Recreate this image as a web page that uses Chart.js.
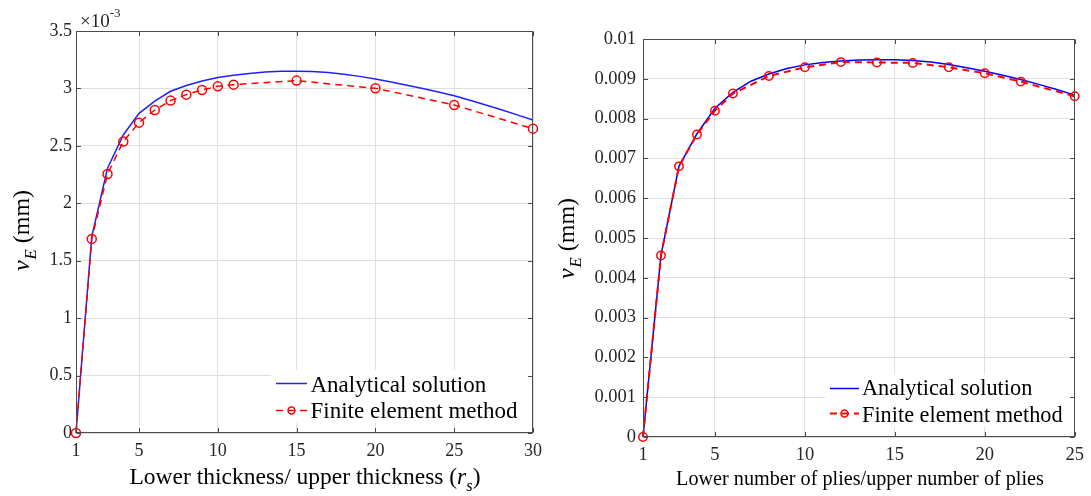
<!DOCTYPE html>
<html><head><meta charset="utf-8">
<script src="https://cdn.jsdelivr.net/npm/chart.js@4.4.1/dist/chart.umd.min.js"></script>
<style>
html,body{margin:0;padding:0;background:#fff;width:1091px;height:496px;overflow:hidden}
canvas{position:absolute;top:0}
#c1{left:0}
#c2{left:550px}
</style></head><body>
<canvas id="c1" width="550" height="496"></canvas>
<canvas id="c2" width="541" height="496"></canvas>
<script>
// ---------- data (left: x 10^-3 mm) ----------
const leftX = [1,2,3,4,5,6,7,8,9,10,11,12,13,14,15,16,17,18,19,20,21,22,23,24,25,26,27,28,29,30];
const leftAnalytical = [0,1.71,2.305,2.595,2.783,2.89,2.975,3.025,3.065,3.095,3.115,3.13,3.142,3.149,3.15,3.147,3.138,3.124,3.105,3.082,3.056,3.028,3.0,2.969,2.937,2.897,2.856,2.814,2.77,2.725];
const leftFemX = [1,2,3,4,5,6,7,8,9,10,11,15,20,25,30];
const leftFem = [0,1.69,2.255,2.537,2.702,2.812,2.894,2.946,2.987,3.018,3.033,3.068,3.001,2.856,2.65];
const leftXTicks = [1,5,10,15,20,25,30];
const leftYTicks = [0,0.5,1,1.5,2,2.5,3,3.5];
const leftYTickLabels = ['0','0.5','1','1.5','2','2.5','3','3.5'];

// ---------- data (right: mm) ----------
const rightX = [1,2,3,4,5,6,7,8,9,10,11,12,13,14,15,16,17,18,19,20,21,22,23,24,25];
const rightAnalytical = [0,0.00457,0.0068,0.00762,0.00826,0.00866,0.00894,0.00912,0.00926,0.00935,0.00941,0.00945,0.00947,0.00948,0.00948,0.00946,0.00942,0.00936,0.00928,0.00919,0.00909,0.00898,0.00886,0.00873,0.00859];
const rightFemX = [1,2,3,4,5,6,8,10,12,14,16,18,20,22,25];
const rightFem = [0,0.00456,0.0068,0.0076,0.0082,0.00863,0.00907,0.00929,0.00942,0.00941,0.0094,0.00929,0.00914,0.00893,0.00856];
const rightXTicks = [1,5,10,15,20,25];
const rightYTicks = [0,0.001,0.002,0.003,0.004,0.005,0.006,0.007,0.008,0.009,0.01];
const rightYTickLabels = ['0','0.001','0.002','0.003','0.004','0.005','0.006','0.007','0.008','0.009','0.01'];

const seriesNames = ['Analytical solution','Finite element method'];
const leftXTitle = ['Lower thickness/ upper thickness (', 'r', 's', ')'];
const rightXTitle = 'Lower number of plies/upper number of plies';
const yTitle = ['v', 'E', ' (mm)'];
const multiplier = ['\u00D710', '-3'];

const FONT = '"Liberation Serif","Times New Roman",serif';
const GRID = '#dfdfdf';
const AXC = '#4a4a4a';
const TICKC = '#262626';

function pts(xs, ys) { return xs.map((x, i) => ({ x: x, y: ys[i] })); }

function makeDecor(o) {
  return {
    id: 'decor',
    afterDatasetsDraw(chart) {
      const ctx = chart.ctx, L = o.legend;
      ctx.save();
      ctx.fillStyle = '#fff';
      ctx.fillRect(L.x0, L.y0, L.x1 - L.x0, L.y1 - L.y0);
      ctx.lineWidth = o.blueW; ctx.strokeStyle = o.blue; ctx.setLineDash([]);
      ctx.beginPath(); ctx.moveTo(L.lx0, L.r1); ctx.lineTo(L.lx1, L.r1); ctx.stroke();
      ctx.lineWidth = o.redW; ctx.strokeStyle = '#ff0000'; ctx.setLineDash(o.dash);
      ctx.beginPath(); ctx.moveTo(L.lx0, L.r2); ctx.lineTo(L.lx1, L.r2); ctx.stroke();
      ctx.setLineDash([]); ctx.lineWidth = o.pbw;
      ctx.beginPath(); ctx.arc((L.lx0 + L.lx1) / 2, L.r2, L.pr, 0, Math.PI * 2); ctx.stroke();
      ctx.fillStyle = '#000'; ctx.textBaseline = 'alphabetic'; ctx.textAlign = 'left';
      ctx.font = L.fs + 'px ' + FONT;
      ctx.fillText(seriesNames[0], L.tx, L.b1);
      ctx.fillText(seriesNames[1], L.tx, L.b2);
      ctx.restore();
    },
    afterDraw(chart) {
      const ctx = chart.ctx, a = chart.chartArea, sx = chart.scales.x, sy = chart.scales.y;
      ctx.save();
      ctx.strokeStyle = AXC; ctx.lineWidth = 1; ctx.setLineDash([]);
      const l = Math.round(a.left) + 0.5, r = Math.round(a.right) - 0.5, t = Math.round(a.top) + 0.5, b = Math.round(a.bottom) - 0.5;
      ctx.strokeRect(l, t, r - l, b - t);
      const tl = 4.5;
      ctx.beginPath();
      o.xTicks.forEach(v => { const p = Math.round(sx.getPixelForValue(v)) + 0.5;
        ctx.moveTo(p, b); ctx.lineTo(p, b - tl); ctx.moveTo(p, t); ctx.lineTo(p, t + tl); });
      o.yTicks.forEach(v => { const p = Math.round(sy.getPixelForValue(v)) + 0.5;
        ctx.moveTo(l, p); ctx.lineTo(l + tl, p); ctx.moveTo(r, p); ctx.lineTo(r - tl, p); });
      ctx.stroke();

      ctx.fillStyle = '#000';
      ctx.textBaseline = 'alphabetic'; ctx.textAlign = 'left';
      // x title
      const xt = o.xTitle;
      if (Array.isArray(xt)) {
        const f1 = xt_font(o.xtSize, ''), f2 = xt_font(o.xtSize, 'italic '), f3 = xt_font(o.xtSize * 0.7, 'italic ');
        ctx.font = f1; const w1 = ctx.measureText(xt[0]).width, w4 = ctx.measureText(xt[3]).width;
        ctx.font = f2; const w2 = ctx.measureText(xt[1]).width;
        ctx.font = f3; const w3 = ctx.measureText(xt[2]).width;
        let x = o.xtCx - (w1 + w2 + w3 + w4) / 2;
        ctx.font = f1; ctx.fillText(xt[0], x, o.xtBase); x += w1;
        ctx.font = f2; ctx.fillText(xt[1], x, o.xtBase); x += w2;
        ctx.font = f3; ctx.fillText(xt[2], x, o.xtBase + o.xtSize * 0.3); x += w3;
        ctx.font = f1; ctx.fillText(xt[3], x, o.xtBase);
      } else {
        ctx.font = xt_font(o.xtSize, ''); ctx.textAlign = 'center';
        ctx.fillText(xt, o.xtCx, o.xtBase); ctx.textAlign = 'left';
      }
      // y title (rotated)
      ctx.save();
      ctx.translate(o.ytBase, o.ytCy); ctx.rotate(-Math.PI / 2);
      const fv = xt_font(o.ytSize, 'italic '), fe = xt_font(o.ytSize * 0.7, 'italic '), fm = xt_font(o.ytSize, '');
      ctx.font = fv; const wv = ctx.measureText(yTitle[0]).width;
      ctx.font = fe; const we = ctx.measureText(yTitle[1]).width;
      ctx.font = fm; const wm = ctx.measureText(yTitle[2]).width;
      let yx = -(wv + we + wm) / 2;
      ctx.font = fv; ctx.fillText(yTitle[0], yx, 0); yx += wv + 1;
      ctx.font = fe; ctx.fillText(yTitle[1], yx, o.ytSize * 0.28); yx += we;
      ctx.font = fm; ctx.fillText(yTitle[2], yx, 0);
      ctx.restore();
      // multiplier
      if (o.mult) {
        ctx.fillStyle = TICKC;
        ctx.font = xt_font(19, ''); const wm1 = ctx.measureText(multiplier[0]).width;
        ctx.fillText(multiplier[0], o.mult.x, o.mult.y);
        ctx.font = xt_font(13, ''); ctx.fillText(multiplier[1], o.mult.x + wm1, o.mult.y - 10);
      }
      ctx.restore();
    }
  };
}
function xt_font(size, style) { return style + size + 'px ' + FONT; }

function makeChart(id, o) {
  return new Chart(document.getElementById(id), {
    type: 'line',
    data: { datasets: [
      { label: seriesNames[0], data: pts(o.ax, o.ay), borderColor: o.blue, borderWidth: o.blueW,
        pointRadius: 0, tension: 0, fill: false, clip: false, order: 2 },
      { label: seriesNames[1], data: pts(o.fx, o.fy), borderColor: '#ff0000', borderWidth: o.redW, borderDash: o.dash,
        pointRadius: o.pr, pointBorderWidth: o.pbw, pointBorderColor: '#ff0000', pointBackgroundColor: 'rgba(0,0,0,0)',
        pointStyle: 'circle', tension: 0, fill: false, clip: false, order: 1 }
    ] },
    options: {
      responsive: false, animation: false, events: [],
      layout: { padding: { left: 0, top: o.padTop, right: o.padRight, bottom: 0 } },
      plugins: { legend: { display: false }, tooltip: { enabled: false } },
      scales: {
        x: { type: 'linear', min: o.xTicks[0], max: o.xTicks[o.xTicks.length - 1],
          afterBuildTicks: s => { s.ticks = o.xTicks.map(v => ({ value: v })); },
          afterFit: s => { s.height = o.xH; },
          grid: { color: GRID, drawTicks: false, lineWidth: 1 }, border: { display: false },
          ticks: { font: { family: FONT, size: o.tickSize }, color: TICKC, padding: o.xPad, maxRotation: 0, autoSkip: false,
            callback: v => String(v) } },
        y: { type: 'linear', min: o.yTicks[0], max: o.yTicks[o.yTicks.length - 1],
          afterBuildTicks: s => { s.ticks = o.yTicks.map(v => ({ value: v })); },
          afterFit: s => { s.width = o.yW; },
          grid: { color: GRID, drawTicks: false, lineWidth: 1 }, border: { display: false },
          ticks: { font: { family: FONT, size: o.tickSize }, color: TICKC, padding: o.yPad, autoSkip: false,
            callback: v => { const i = o.yTicks.findIndex(t => Math.abs(t - v) < 1e-9); return i >= 0 ? o.yLabels[i] : ''; } } }
      }
    },
    plugins: [makeDecor(o)]
  });
}

makeChart('c1', {
  ax: leftX, ay: leftAnalytical, fx: leftFemX, fy: leftFem,
  xTicks: leftXTicks, yTicks: leftYTicks, yLabels: leftYTickLabels,
  blue: '#2020ff', blueW: 1.5, redW: 1.5, dash: [7, 5], pr: 4.5, pbw: 1.5,
  padTop: 31, padRight: 17, xH: 63, yW: 76, tickSize: 18, xPad: 7, yPad: 4,
  xTitle: leftXTitle, xtSize: 23.5, xtCx: 305, xtBase: 484,
  ytSize: 24, ytBase: 29, ytCy: 231,
  mult: { x: 80, y: 27 },
  legend: { x0: 271, y0: 370, x1: 533, y1: 423, lx0: 276, lx1: 307, r1: 383.5, r2: 410.5, tx: 310.5, b1: 391.5, b2: 417.5, fs: 23, pr: 3.5 }
});
makeChart('c2', {
  ax: rightX, ay: rightAnalytical, fx: rightFemX, fy: rightFem,
  xTicks: rightXTicks, yTicks: rightYTicks, yLabels: rightYTickLabels,
  blue: '#0000ff', blueW: 1.5, redW: 2, dash: [7, 5], pr: 4.2, pbw: 1.5,
  padTop: 39, padRight: 15, xH: 59, yW: 93, tickSize: 18.5, xPad: 7, yPad: 7,
  xTitle: rightXTitle, xtSize: 20.2, xtCx: 310, xtBase: 485,
  ytSize: 24, ytBase: 24, ytCy: 239,
  mult: null,
  legend: { x0: 275, y0: 375, x1: 526, y1: 427, lx0: 280, lx1: 309, r1: 388.5, r2: 413.5, tx: 312, b1: 395, b2: 421.5, fs: 22.3, pr: 3.5 }
});
</script>
</body></html>
